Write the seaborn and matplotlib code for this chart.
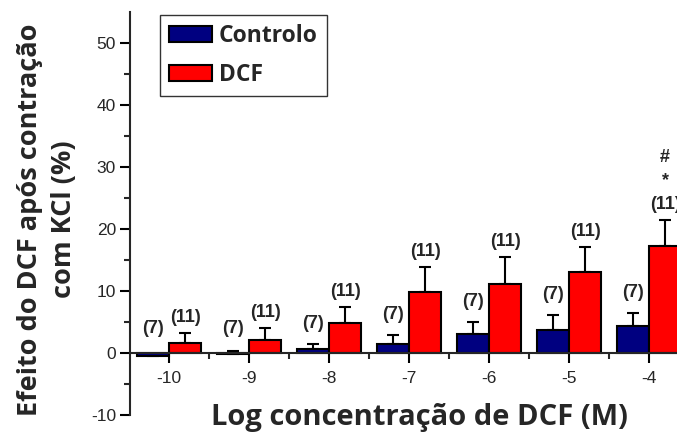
import numpy as np
import pandas as pd
import matplotlib
matplotlib.use("Agg")
import matplotlib.pyplot as plt
import seaborn as sns
from matplotlib.ticker import FixedLocator

concentrations = ["-10", "-9", "-8", "-7", "-6", "-5", "-4"]
controlo_mean = [-0.5, -0.2, 0.6, 1.5, 3.1, 3.8, 4.3]
controlo_sem = [0.3, 0.5, 0.9, 1.5, 1.9, 2.3, 2.2]
dcf_mean = [1.7, 2.1, 4.8, 9.8, 11.2, 13.1, 17.2]
dcf_sem = [1.5, 1.9, 2.6, 4.1, 4.3, 4.0, 4.2]
controlo_n = ["(7)"] * 7
dcf_n = ["(11)"] * 7
groups = ["Controlo", "DCF"]
colors = ["#000080", "#FF0000"]

df = pd.DataFrame({
    "conc": concentrations * 2,
    "value": controlo_mean + dcf_mean,
    "grupo": [groups[0]] * 7 + [groups[1]] * 7,
})

sns.set_style("ticks")
plt.rcParams["font.family"] = ["Liberation Sans", "DejaVu Sans"]
plt.rcParams["axes.unicode_minus"] = False

fig = plt.figure(figsize=(6.77, 4.32), dpi=100)
ax = fig.add_axes([0.192, 0.039, 0.808, 0.933])

sns.barplot(data=df, x="conc", y="value", hue="grupo", order=concentrations,
            hue_order=groups, palette=colors, saturation=1, errorbar=None, width=0.8,
            edgecolor="black", linewidth=1.5, ax=ax, zorder=2)

bars = [p for p in ax.patches if p.get_width() > 0][:14]
bars_c = bars[:7]
bars_d = bars[7:]

tfont = dict(fontsize=13, fontweight="bold", ha="center", va="center")
for blist, means, sems, labels, off, mn in [
        (bars_c, controlo_mean, controlo_sem, controlo_n, 3.3, 3.9),
        (bars_d, dcf_mean, dcf_sem, dcf_n, 2.5, 0)]:
    xs = [b.get_x() + b.get_width() / 2 for b in blist]
    ax.errorbar(xs, means, yerr=[np.zeros(7), sems], fmt="none", ecolor="black",
                elinewidth=1.5, capsize=4, capthick=1.5, zorder=1)
    for x, m, s, lab in zip(xs, means, sems, labels):
        ax.text(x, max(m + s + off, mn), lab, **tfont)

# significance marks on the last DCF bar
xl = bars_d[-1].get_x() + bars_d[-1].get_width() / 2
ax.text(xl, dcf_mean[-1] + dcf_sem[-1] + 6.4, "*", **tfont)
ax.text(xl, dcf_mean[-1] + dcf_sem[-1] + 10.2, "#", **tfont)

ax.set_xlim(-0.49, 6.35)
ax.set_ylim(-10, 55)
ax.spines["top"].set_visible(False)
ax.spines["right"].set_visible(False)
ax.spines["bottom"].set_position(("data", 0))
for s in ["left", "bottom"]:
    ax.spines[s].set_linewidth(1.5)
    ax.spines[s].set_zorder(3)

ax.yaxis.set_major_locator(FixedLocator([-10, 0, 10, 20, 30, 40, 50]))
ax.yaxis.set_minor_locator(FixedLocator([-5, 5, 15, 25, 35, 45]))
ax.xaxis.set_minor_locator(FixedLocator([0.5, 1.5, 2.5, 3.5, 4.5, 5.5]))
ax.tick_params(axis="both", which="major", direction="out", length=7, width=1.5,
               labelsize=12.5, color="black")
ax.tick_params(axis="both", which="minor", direction="out", length=4, width=1.5)
ax.tick_params(axis="x", pad=6)
ax.tick_params(axis="y", pad=3)

ax.set_xlabel("Log concentração de DCF (M)", family=["Open Sans", "DejaVu Sans"],
              fontweight="bold", fontsize=21)
ax.xaxis.set_label_coords(0.530, -0.006)
ax.xaxis.label.set_va("center")
ax.set_ylabel("Efeito do DCF após contração\ncom KCl (%)", linespacing=1.4,
              family=["Open Sans", "DejaVu Sans"], fontweight="bold", fontsize=19.5)
ax.yaxis.set_label_coords(-0.151, 0.486)
ax.yaxis.label.set_va("center")

leg = ax.legend(loc="upper left", bbox_to_anchor=(0.055, 0.9925), borderaxespad=0,
                frameon=True, fancybox=False, edgecolor="black",
                handlelength=1.85, handleheight=0.7, handletextpad=0.3,
                borderpad=0.4, labelspacing=0.65,
                prop={"family": ["Open Sans", "DejaVu Sans"], "weight": "bold", "size": 16.5})
leg.get_frame().set_linewidth(1.0)
for h in leg.legend_handles:
    h.set_edgecolor("black")
    h.set_linewidth(1.5)

fig.savefig("out.png", dpi=100)
